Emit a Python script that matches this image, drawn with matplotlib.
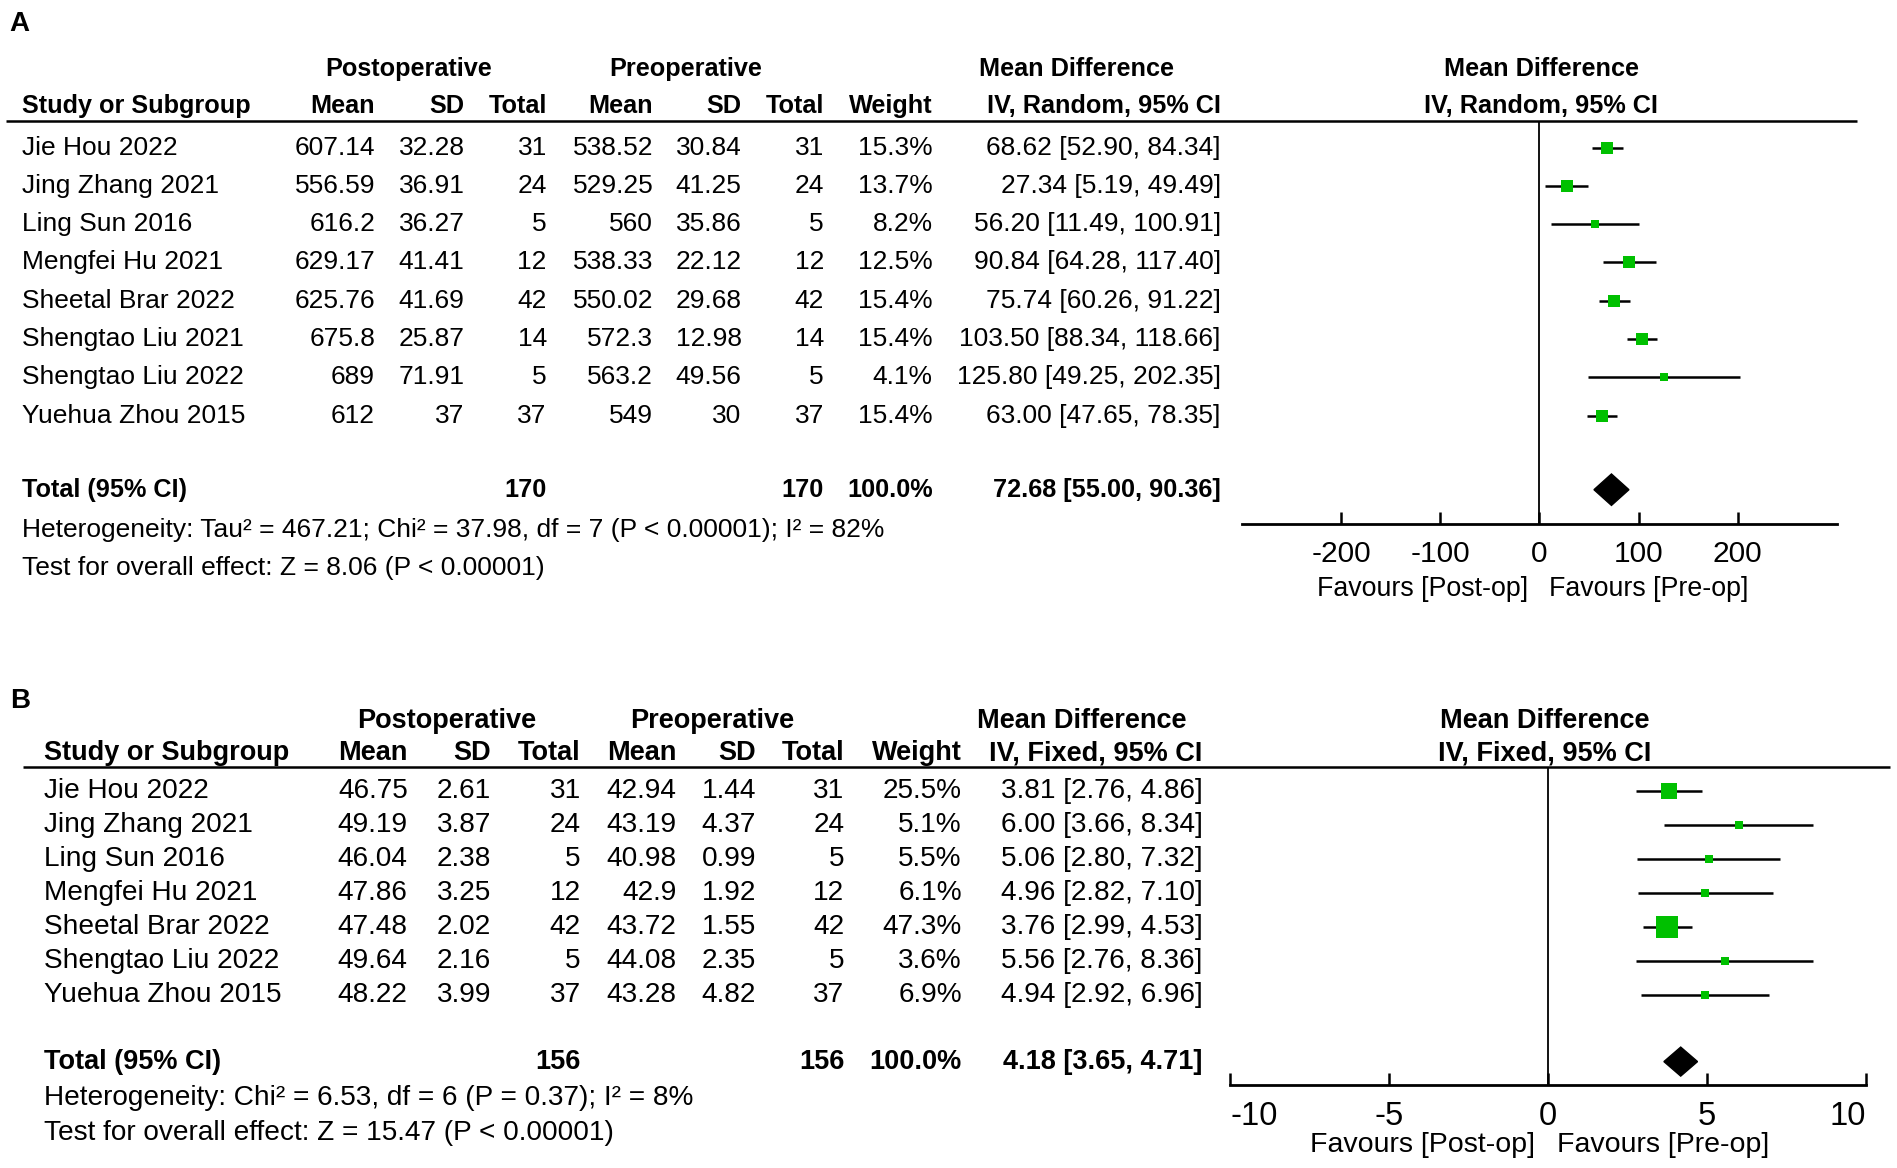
import numpy as np
import matplotlib.pyplot as plt
from matplotlib.patches import Polygon

plt.rcParams['font.family'] = ['Liberation Sans', 'DejaVu Sans']

# ---------------- panel A data ----------------
studies_a = ['Jie Hou 2022', 'Jing Zhang 2021', 'Ling Sun 2016', 'Mengfei Hu 2021',
             'Sheetal Brar 2022', 'Shengtao Liu 2021', 'Shengtao Liu 2022', 'Yuehua Zhou 2015']
post_mean_a = [607.14, 556.59, 616.2, 629.17, 625.76, 675.8, 689, 612]
post_sd_a = [32.28, 36.91, 36.27, 41.41, 41.69, 25.87, 71.91, 37]
post_n_a = [31, 24, 5, 12, 42, 14, 5, 37]
pre_mean_a = [538.52, 529.25, 560, 538.33, 550.02, 572.3, 563.2, 549]
pre_sd_a = [30.84, 41.25, 35.86, 22.12, 29.68, 12.98, 49.56, 30]
pre_n_a = [31, 24, 5, 12, 42, 14, 5, 37]
weight_a = [15.3, 13.7, 8.2, 12.5, 15.4, 15.4, 4.1, 15.4]
md_a = [68.62, 27.34, 56.20, 90.84, 75.74, 103.50, 125.80, 63.00]
lo_a = [52.90, 5.19, 11.49, 64.28, 60.26, 88.34, 49.25, 47.65]
hi_a = [84.34, 49.49, 100.91, 117.40, 91.22, 118.66, 202.35, 78.35]
total_a = [72.68, 55.00, 90.36]
het_a = 'Heterogeneity: Tau² = 467.21; Chi² = 37.98, df = 7 (P < 0.00001); I² = 82%'
test_a = 'Test for overall effect: Z = 8.06 (P < 0.00001)'
ticks_a = [-200, -100, 0, 100, 200]

# ---------------- panel B data ----------------
studies_b = ['Jie Hou 2022', 'Jing Zhang 2021', 'Ling Sun 2016', 'Mengfei Hu 2021',
             'Sheetal Brar 2022', 'Shengtao Liu 2022', 'Yuehua Zhou 2015']
post_mean_b = [46.75, 49.19, 46.04, 47.86, 47.48, 49.64, 48.22]
post_sd_b = [2.61, 3.87, 2.38, 3.25, 2.02, 2.16, 3.99]
post_n_b = [31, 24, 5, 12, 42, 5, 37]
pre_mean_b = [42.94, 43.19, 40.98, 42.9, 43.72, 44.08, 43.28]
pre_sd_b = [1.44, 4.37, 0.99, 1.92, 1.55, 2.35, 4.82]
pre_n_b = [31, 24, 5, 12, 42, 5, 37]
weight_b = [25.5, 5.1, 5.5, 6.1, 47.3, 3.6, 6.9]
md_b = [3.81, 6.00, 5.06, 4.96, 3.76, 5.56, 4.94]
lo_b = [2.76, 3.66, 2.80, 2.82, 2.99, 2.76, 2.92]
hi_b = [4.86, 8.34, 7.32, 7.10, 4.53, 8.36, 6.96]
total_b = [4.18, 3.65, 4.71]
het_b = 'Heterogeneity: Chi² = 6.53, df = 6 (P = 0.37); I² = 8%'
test_b = 'Test for overall effect: Z = 15.47 (P < 0.00001)'
ticks_b = [-10, -5, 0, 5, 10]

GREEN = '#00C000'
W, H = 1568, 966  # layout units

fig = plt.figure(figsize=(18.97, 11.68), dpi=100)
base = fig.add_axes([0, 0, 1, 1])
base.set_xlim(0, W)
base.set_ylim(H, 0)
base.axis('off')


def panel(label, lay, studies, pm, psd, pn, qm, qsd, qn, wt, md, lo, hi, tot,
          method, het, test, ticks, xlim):
    fs, fsb = lay['fs'], lay['fsb']
    y_h1, y_h2, y_line = lay['yh1'], lay['yh2'], lay['yline']
    c = lay['cols']
    base.text(8, lay['ylab'], label, fontsize=20, fontweight='bold', va='center')

    # headers
    bold = dict(fontsize=fsb, fontweight='bold', va='center')
    base.text(lay['post_c'], y_h1, 'Postoperative', ha='center', **bold)
    base.text(lay['pre_c'], y_h1, 'Preoperative', ha='center', **bold)
    base.text(lay['md_c'], y_h1, 'Mean Difference', ha='center', **bold)
    base.text(lay['plot_c'], y_h1, 'Mean Difference', ha='center', **bold)
    base.text(lay['x_study'], y_h2, 'Study or Subgroup', **bold)
    for x, s in zip(c, ['Mean', 'SD', 'Total', 'Mean', 'SD', 'Total', 'Weight',
                        f'IV, {method}, 95% CI']):
        base.text(x, y_h2, s, ha='right', **bold)
    base.text(lay['plot_c'], y_h2, f'IV, {method}, 95% CI', ha='center', **bold)
    base.plot([lay['line_x0'], lay['line_x1']], [y_line, y_line], color='black', lw=1.8,
              solid_capstyle='butt')

    # study rows
    rows = [lay['y0'] + i * lay['dy'] for i in range(len(studies))]
    for i, y in enumerate(rows):
        base.text(lay['x_study'], y, studies[i], fontsize=fs, va='center')
        vals = [f'{pm[i]:g}', f'{psd[i]:g}', f'{pn[i]}', f'{qm[i]:g}', f'{qsd[i]:g}', f'{qn[i]}',
                f'{wt[i]:.1f}%', f'{md[i]:.2f} [{lo[i]:.2f}, {hi[i]:.2f}]']
        for x, s in zip(c, vals):
            base.text(x, y, s, fontsize=fs, ha='right', va='center')

    yt = lay['ytot']
    base.text(lay['x_study'], yt, 'Total (95% CI)', **bold)
    for x, s in zip([c[2], c[5], c[6], c[7]],
                    [f'{sum(pn)}', f'{sum(qn)}', f'{sum(wt):.1f}%',
                     f'{tot[0]:.2f} [{tot[1]:.2f}, {tot[2]:.2f}]']):
        base.text(x, yt, s, ha='right', **bold)
    base.text(lay['x_study'], lay['yhet'], het, fontsize=fs, va='center')
    base.text(lay['x_study'], lay['ytest'], test, fontsize=fs, va='center')

    # forest plot
    x0, x1, yax = lay['ax_x0'], lay['ax_x1'], lay['yax']
    ax = fig.add_axes([x0 / W, 1 - yax / H, (x1 - x0) / W, (yax - y_line) / H])
    ax.set_xlim(*xlim)
    ax.set_ylim(yax, y_line)
    ax.patch.set_alpha(0)
    for s in ['top', 'left', 'right']:
        ax.spines[s].set_visible(False)
    ax.spines['bottom'].set_linewidth(2.0)
    ax.set_yticks([])
    ax.set_xticks(ticks)
    ax.set_xticklabels([f'{t}' for t in ticks])
    ax.tick_params(axis='x', direction='in', length=9, width=1.8, labelsize=lay['fst'],
                   pad=lay['pad'])
    ax.axvline(0, color='black', lw=1.3)
    ax.hlines(rows, lo, hi, color='black', lw=1.8)
    for i, y in enumerate(rows):
        ms = max(2.25 * np.sqrt(wt[i]), 6.0)
        ax.plot(md[i], y, marker='s', ms=ms, color=GREEN, mec=GREEN, mew=0)
    h = lay['dh']
    ax.add_patch(Polygon([[tot[1], yt], [tot[0], yt - h], [tot[2], yt], [tot[0], yt + h]],
                         closed=True, color='black', clip_on=False))
    base.text(lay['fav_l'], lay['yfav'], 'Favours [Post-op]', fontsize=lay['fsf'],
              ha='center', va='center')
    base.text(lay['fav_r'], lay['yfav'], 'Favours [Pre-op]', fontsize=lay['fsf'],
              ha='center', va='center')
    return ax


lay_a = dict(fs=19, fsb=18.2, fst=21.5, fsf=19.3, ylab=20, yh1=57, yh2=88, yline=100,
             x_study=18, cols=[310, 384, 452, 540, 613, 681, 771, 1009],
             post_c=338, pre_c=567, md_c=890, plot_c=1274, line_x0=5, line_x1=1535,
             y0=122, dy=31.7, ytot=405, yhet=438, ytest=470,
             ax_x0=1027, ax_x1=1518, yax=433, pad=12, dh=13,
             fav_l=1176, fav_r=1363, yfav=487)
panel('A', lay_a, studies_a, post_mean_a, post_sd_a, post_n_a, pre_mean_a, pre_sd_a, pre_n_a,
      weight_a, md_a, lo_a, hi_a, total_a, 'Random', het_a, test_a, ticks_a, (-300, 300))

lay_b = dict(fs=20.2, fsb=19.5, fst=23.5, fsf=20.5, ylab=580, yh1=596, yh2=623, yline=634,
             x_study=36, cols=[337, 406, 480, 559, 625, 698, 795, 994],
             post_c=369, pre_c=589, md_c=894, plot_c=1277, line_x0=19, line_x1=1562,
             y0=654, dy=28.2, ytot=878, yhet=908, ytest=937,
             ax_x0=1017, ax_x1=1542, yax=897, pad=12, dh=12,
             fav_l=1176, fav_r=1375, yfav=947)
axb = panel('B', lay_b, studies_b, post_mean_b, post_sd_b, post_n_b, pre_mean_b, pre_sd_b, pre_n_b,
            weight_b, md_b, lo_b, hi_b, total_b, 'Fixed', het_b, test_b, ticks_b, (-10, 10))
axb.set_xticks([-10, 10], minor=True)
axb.tick_params(axis='x', which='minor', direction='out', length=7, width=1.8)
# end labels kept inside the axis, as in the original
tl = axb.get_xticklabels()
tl[0].set_horizontalalignment('left')
tl[-1].set_horizontalalignment('right')

fig.savefig('out.png', dpi=100, facecolor='white')
